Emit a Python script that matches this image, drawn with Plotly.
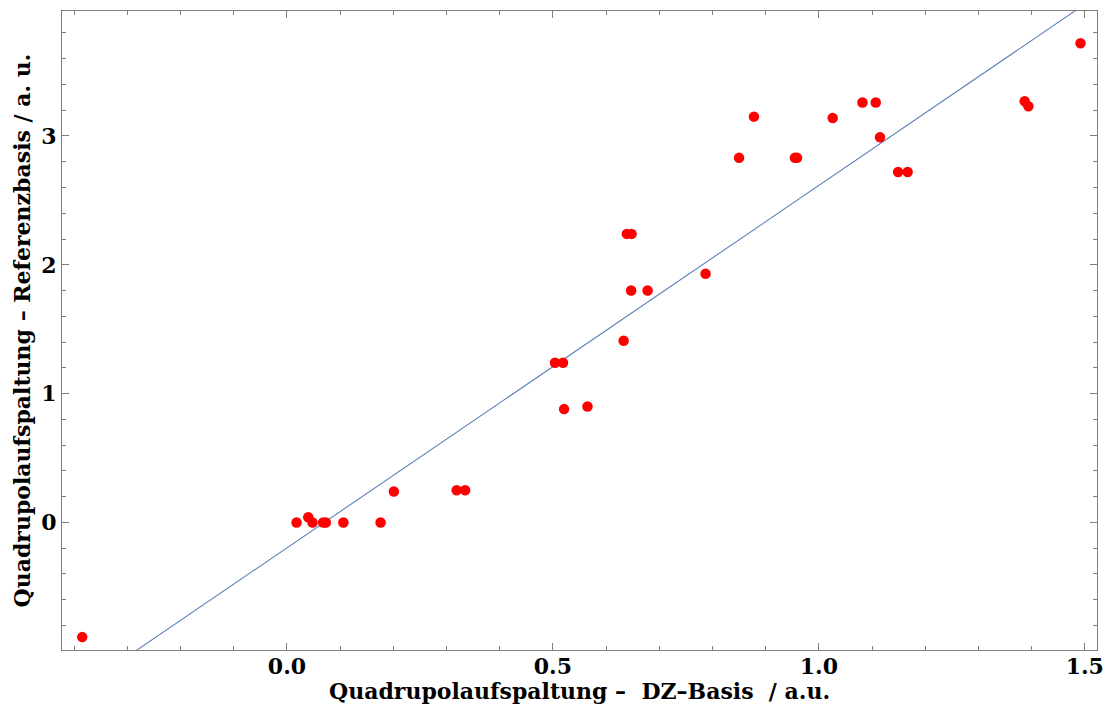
import plotly.graph_objects as go

# Data
x_dz = [-0.385, 0.018, 0.040, 0.048, 0.068, 0.073, 0.106, 0.176, 0.201, 0.319,
        0.335, 0.504, 0.519, 0.521, 0.565, 0.633, 0.639, 0.648, 0.647, 0.678,
        0.787, 0.850, 0.878, 0.955, 0.959, 1.026, 1.082, 1.107, 1.115, 1.149,
        1.167, 1.387, 1.394, 1.492]
y_ref = [-0.89, 0.0, 0.04, 0.0, 0.0, 0.0, 0.0, 0.0, 0.24, 0.25,
         0.25, 1.24, 1.24, 0.88, 0.90, 1.41, 2.24, 2.24, 1.80, 1.80,
         1.93, 2.83, 3.15, 2.83, 2.83, 3.14, 3.26, 3.26, 2.99, 2.72,
         2.72, 3.27, 3.23, 3.72]

fit_slope = 2.813
fit_intercept = -0.197

x_range = [-0.423, 1.523]
y_range = [-0.99, 3.97]

x_tickvals = [0.0, 0.5, 1.0, 1.5]
x_ticktext = ["0.0", "0.5", "1.0", "1.5"]
y_tickvals = [0, 1, 2, 3]
y_ticktext = ["0", "1", "2", "3"]

x_title = "Quadrupolaufspaltung –  DZ–Basis  / a.u."
y_title = "Quadrupolaufspaltung – Referenzbasis / a. u."

fit_x = [x_range[0], x_range[1]]
fit_y = [fit_slope * v + fit_intercept for v in fit_x]

FONT = "DejaVu Serif"
frame_col = "#7f7f7f"
title_font = dict(family=FONT, size=22, color="black", weight="bold")

fig = go.Figure()
fig.add_trace(go.Scatter(
    x=fit_x, y=fit_y, mode="lines",
    line=dict(color="#5e81b5", width=1.1),
    showlegend=False, hoverinfo="skip",
))
fig.add_trace(go.Scatter(
    x=x_dz, y=y_ref, mode="markers",
    marker=dict(color="#ff0000", size=10.5, line=dict(width=0)),
    showlegend=False, cliponaxis=False,
))

axis_common = dict(
    showgrid=False, zeroline=False, automargin=False,
    showline=True, linecolor=frame_col, linewidth=1.2, mirror="ticks",
    ticks="inside", ticklen=7, tickcolor=frame_col, tickwidth=1,
    tickfont=dict(family=FONT, size=22, color="black", weight="bold"),
)

fig.update_xaxes(
    range=x_range, tickvals=x_tickvals, ticktext=x_ticktext,
    minor=dict(dtick=0.1, tick0=0, ticks="inside", ticklen=4, tickcolor=frame_col),
    ticklabelstandoff=-4,
    **axis_common,
)
fig.update_yaxes(
    range=y_range, tickvals=y_tickvals, ticktext=y_ticktext,
    minor=dict(dtick=0.2, tick0=0, ticks="inside", ticklen=4, tickcolor=frame_col),
    title=dict(text=y_title, font=title_font, standoff=4),
    **axis_common,
)

fig.add_annotation(
    text=x_title, xref="paper", yref="paper", x=0.5, y=0,
    xanchor="center", yanchor="top", yshift=-27, borderpad=0,
    showarrow=False, font=title_font,
)

fig.update_layout(
    width=1105, height=722,
    margin=dict(l=62, r=8, t=11, b=72),
    paper_bgcolor="white", plot_bgcolor="white",
)

fig.write_html("out.html")
